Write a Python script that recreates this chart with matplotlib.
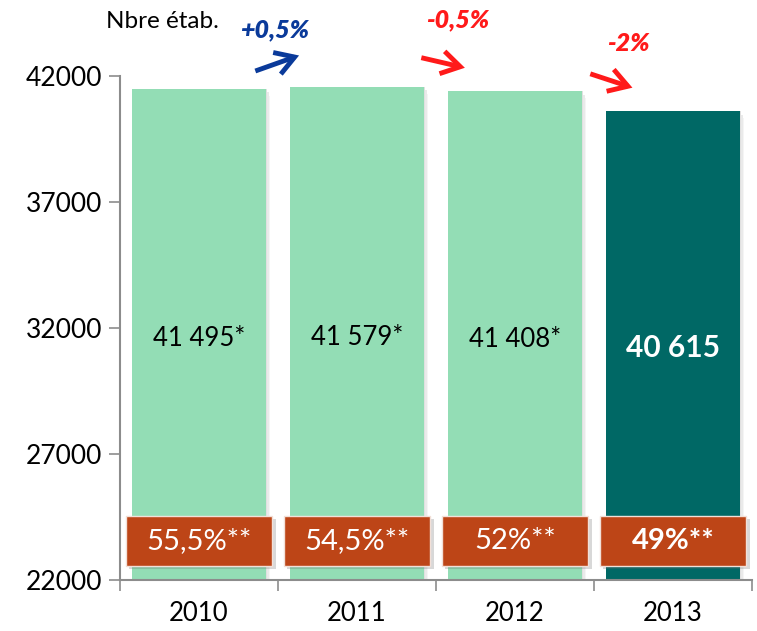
import matplotlib
matplotlib.use("Agg")
import matplotlib.pyplot as plt
from matplotlib.patches import Rectangle, FancyArrowPatch

plt.rcParams['font.family'] = ['Lato', 'DejaVu Sans']

# data
years = ['2010', '2011', '2012', '2013']
nb_etab = [41495, 41579, 41408, 40615]
part_pct = [55.5, 54.5, 52, 49]
evol_labels = ['+0,5%', '-0,5%', '-2%']
evol_colors = ['#0a3a9a', '#ff1a1a', '#ff1a1a']

light_green = '#93ddb5'
dark_teal = '#006865'
orange = '#bd4517'
axis_grey = '#8c8c8c'

fig = plt.figure(figsize=(7.57, 6.31), dpi=100)
ax = fig.add_axes([0.1585, 0.0808, 0.8349, 0.7988])

ymin, ymax = 22000, 42000
x = list(range(len(years)))
colors = [light_green] * 3 + [dark_teal]
bw = 0.85

# shadows on the right of bars
for i, v in enumerate(nb_etab):
    for k, a in enumerate([0.18, 0.12, 0.06]):
        ax.add_patch(Rectangle((i + bw / 2 + k * 0.008, ymin), 0.008, v - ymin - 150 * k,
                               facecolor='#555555', alpha=a, edgecolor='none', zorder=1))

ax.bar(x, [v - ymin for v in nb_etab], bottom=ymin, width=bw, color=colors, zorder=2)

# values in the bars
for i, v in enumerate(nb_etab):
    txt = f"{v:,}".replace(",", " ")
    ymid = (ymin + v) / 2
    if i < len(nb_etab) - 1:
        ax.text(i, ymid - 150, txt + '*', ha='center', va='center', fontsize=18.5, color='black', zorder=5)
    else:
        ax.text(i, ymid - 100, txt, ha='center', va='center', fontsize=21.5, color='white',
                fontweight='bold', zorder=5)

# orange boxes with share
box_w = 0.93
box_lo, box_hi = 22550, 24550
for i, p in enumerate(part_pct):
    ax.add_patch(Rectangle((i - box_w / 2 + 0.02, box_lo - 120), box_w, box_hi - box_lo,
                           facecolor='#666666', alpha=0.25, edgecolor='none', zorder=3))
    ax.add_patch(Rectangle((i - box_w / 2, box_lo), box_w, box_hi - box_lo,
                           facecolor=orange, edgecolor='#f2e0d8', linewidth=1, zorder=4))
    lab = (f"{p:g}".replace('.', ',')) + '%**'
    ax.text(i, (box_lo + box_hi) / 2, lab, ha='center', va='center', fontsize=21,
            color='white', fontweight='bold' if i == len(part_pct) - 1 else 'normal', zorder=5)

# evolution arrows between bars
arrow_pos = [((0.34, 42160), (0.65, 42850)),
             ((1.39, 42750), (1.70, 42300)),
             ((2.46, 42120), (2.76, 41500))]
label_pos = [(0.48, 43830), (1.64, 44220), (2.72, 43270)]
for (p0, p1), (lx, ly), lab, c in zip(arrow_pos, label_pos, evol_labels, evol_colors):
    arr = FancyArrowPatch(p0, p1, arrowstyle='->,head_length=0.9,head_width=0.55',
                          color=c, linewidth=3.5, clip_on=False, zorder=6,
                          mutation_scale=15, joinstyle='miter', capstyle='butt')
    ax.add_patch(arr)
    ax.text(lx, ly, lab, ha='center', va='center', fontsize=18, color=c,
            fontweight='heavy', fontstyle='italic', clip_on=False)

ax.set_xlim(-0.5, len(years) - 0.5)
ax.set_ylim(ymin, ymax)
ax.set_yticks(range(ymin, ymax + 1, 5000))
ax.set_yticklabels([str(t) for t in range(ymin, ymax + 1, 5000)], fontsize=19)
ax.set_xticks(x)
ax.set_xticklabels(years, fontsize=18.5)
ax.set_xticks([i - 0.5 for i in range(len(years) + 1)], minor=True)
ax.tick_params(axis='x', which='major', length=0, pad=15)
ax.tick_params(axis='x', which='minor', length=8, color=axis_grey, width=1.2)
ax.tick_params(axis='y', length=8, color=axis_grey, width=1.2, pad=5)

for s in ['top', 'right']:
    ax.spines[s].set_visible(False)
for s in ['left', 'bottom']:
    ax.spines[s].set_color(axis_grey)
    ax.spines[s].set_linewidth(1.5)

fig.text(0.214, 0.966, 'Nbre étab.', ha='center', va='center', fontsize=17.5)

fig.savefig('out.png', dpi=100)
